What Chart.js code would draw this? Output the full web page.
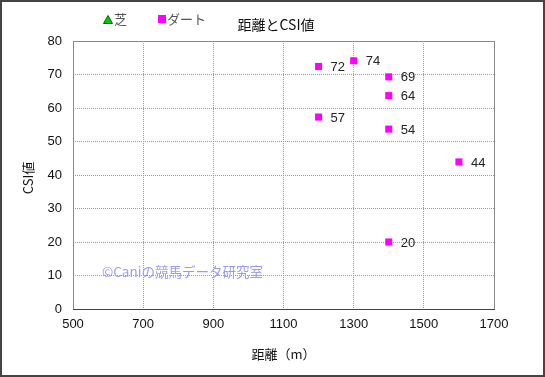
<!DOCTYPE html>
<html>
<head>
<meta charset="utf-8">
<script src="https://cdn.jsdelivr.net/npm/chart.js@4"></script>
<style>
  html, body { margin: 0; padding: 0; background: #fff; }
  #wrap { width: 545px; height: 377px; }
</style>
</head>
<body>
<div id="wrap"><canvas id="csiChart" width="545" height="377"></canvas></div>
<script>
// data
const turfDistance = [];
const turfCsi = [];
const dirtDistance = [1200, 1300, 1400, 1400, 1200, 1400, 1600, 1400];
const dirtCsi = [72.4, 74.1, 69.3, 63.7, 57.3, 53.7, 43.9, 20.0];
const xTicks = [500, 700, 900, 1100, 1300, 1500, 1700];
const yTicks = [0, 10, 20, 30, 40, 50, 60, 70, 80];

const JP = '"Noto Sans CJK JP", sans-serif';
const NUM = '"Liberation Sans", Arial, sans-serif';
const ctx = document.getElementById('csiChart');

// labels, legend, titles and frame
const extras = {
  id: 'extras',
  beforeDraw(chart) {
    const c = chart.ctx;
    c.save();
    c.fillStyle = '#fff';
    c.fillRect(0, 0, chart.width, chart.height);
    c.restore();
  },
  afterDatasetsDraw(chart) {
    const c = chart.ctx;
    const meta = chart.getDatasetMeta(1);
    c.save();
    c.font = '13px ' + NUM;
    c.fillStyle = '#222';
    c.textAlign = 'left';
    c.textBaseline = 'middle';
    meta.data.forEach((pt, i) => {
      c.fillText(String(Math.round(dirtCsi[i])), pt.x + 12, pt.y + 1);
    });
    c.restore();
  },
  afterDraw(chart) {
    const c = chart.ctx;
    const a = chart.chartArea;
    c.save();
    // watermark
    c.font = '13.5px ' + JP;
    c.fillStyle = '#9a9af0';
    c.textBaseline = 'middle';
    c.fillText('©Caniの競馬データ研究室', 102, 272);
    // title
    c.fillStyle = '#111';
    c.font = '14px ' + JP;
    c.textAlign = 'center';
    c.fillText('距離とCSI値', 276, 25);
    // legend
    c.font = '13px ' + JP;
    c.textAlign = 'left';
    c.fillStyle = '#00cc00';
    c.strokeStyle = '#006600';
    c.lineWidth = 1;
    c.beginPath();
    c.moveTo(108, 15.5); c.lineTo(112.5, 23.5); c.lineTo(103.5, 23.5); c.closePath();
    c.fill(); c.stroke();
    c.fillStyle = '#555';
    c.fillText('芝', 114, 19);
    c.fillStyle = '#ff00ff';
    c.fillRect(158, 15, 8, 8);
    c.fillStyle = '#555';
    c.fillText('ダート', 167, 19);
    // axis titles
    c.fillStyle = '#111';
    c.font = '13px ' + JP;
    c.textAlign = 'center';
    c.fillText('距離（m）', (a.left + a.right) / 2, 354);
    c.translate(28, 178);
    c.rotate(-Math.PI / 2);
    c.fillText('CSI値', 0, 0);
    c.restore();
    // plot frame
    c.save();
    c.strokeStyle = '#888';
    c.lineWidth = 1;
    c.strokeRect(a.left + 0.5, a.top + 0.5, a.right - a.left, a.bottom - a.top);
    c.strokeStyle = '#444';
    c.beginPath();
    c.moveTo(a.left, a.bottom + 0.5); c.lineTo(a.right + 1, a.bottom + 0.5);
    c.stroke();
    // outer border
    c.strokeStyle = '#444';
    c.lineWidth = 2;
    c.strokeRect(1, 1, chart.width - 2, chart.height - 2);
    c.restore();
  }
};

new Chart(ctx, {
  type: 'scatter',
  data: {
    datasets: [
      {
        label: '芝',
        data: turfDistance.map((d, i) => ({ x: d, y: turfCsi[i] })),
        pointStyle: 'triangle',
        backgroundColor: '#00cc00',
        borderColor: '#006600',
        pointRadius: 5
      },
      {
        label: 'ダート',
        data: dirtDistance.map((d, i) => ({ x: d, y: dirtCsi[i] })),
        pointStyle: 'rect',
        backgroundColor: '#ff00ff',
        borderColor: '#ff00ff',
        borderWidth: 0,
        pointRadius: 5,
        pointHoverRadius: 5
      }
    ]
  },
  plugins: [extras],
  options: {
    responsive: false,
    animation: false,
    events: [],
    layout: { padding: { top: 41, right: 51, left: 0, bottom: 0 } },
    plugins: {
      legend: { display: false },
      title: { display: false },
      tooltip: { enabled: false }
    },
    scales: {
      x: {
        type: 'linear',
        min: 500,
        max: 1700,
        afterBuildTicks: axis => { axis.ticks = xTicks.map(v => ({ value: v })); },
        afterFit: axis => { axis.height = 68; },
        grid: { color: '#999', drawTicks: false },
        border: { display: false, dash: [1, 1] },
        ticks: {
          color: '#111',
          padding: 8,
          maxRotation: 0,
          font: { family: NUM, size: 13 },
          callback: v => String(v)
        }
      },
      y: {
        type: 'linear',
        min: 0,
        max: 80,
        afterBuildTicks: axis => { axis.ticks = yTicks.map(v => ({ value: v })); },
        afterFit: axis => { axis.width = 73; },
        grid: { color: '#999', drawTicks: false },
        border: { display: false, dash: [1, 1] },
        ticks: {
          color: '#111',
          padding: 11,
          font: { family: NUM, size: 13 },
          callback: v => String(v)
        }
      }
    }
  }
});
</script>
</body>
</html>
